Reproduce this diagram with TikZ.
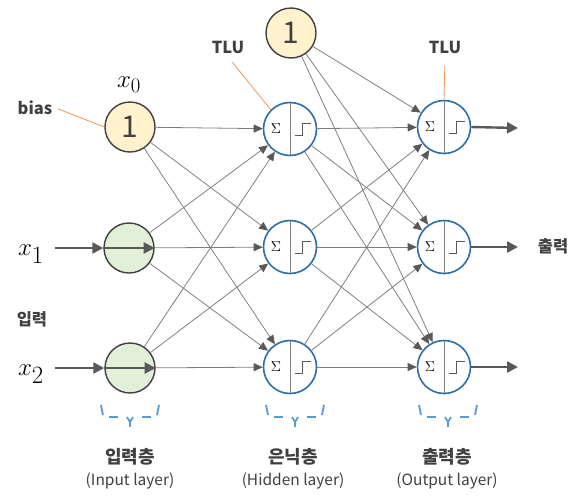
\documentclass[tikz,border=0pt]{standalone}
\usepackage{fontspec}
\setmainfont{Noto Sans CJK KR}
\usetikzlibrary{arrows.meta}

\definecolor{biasfill}{HTML}{FFF2CC}
\definecolor{infill}{HTML}{E2F0D9}
\definecolor{nodegray}{HTML}{404040}
\definecolor{tlublue}{HTML}{2E6EA6}
\definecolor{leadorange}{HTML}{F0955A}
\definecolor{linegray}{HTML}{7F7F7F}
\definecolor{headgray}{HTML}{595959}
\definecolor{bracketblue}{HTML}{5B9BD5}
\definecolor{textgray}{HTML}{404040}

\tikzset{
	bracket/.pic={
		\draw[bracketblue, line width=1.8pt] (-29,0) -- (-27,10);
		\draw[bracketblue, line width=1.8pt] (-21,12) -- (-12,12);
		\draw[bracketblue, line width=1.8pt] (-3,12) -- (0,17) -- (3,12);
		\draw[bracketblue, line width=1.8pt] (0,17) -- (0,22);
		\draw[bracketblue, line width=1.8pt] (12,12) -- (21,12);
		\draw[bracketblue, line width=1.8pt] (29,0) -- (27,10);
	}
}

\begin{document}
\begin{tikzpicture}[x=1pt, y=-1pt,
	bias/.style={shape=circle, draw=nodegray, line width=1.4pt, fill=biasfill, minimum size=50pt, inner sep=0pt, text=nodegray, font=\fontsize{30}{30}\selectfont},
	inp/.style={shape=circle, draw=nodegray, line width=1.4pt, fill=infill, minimum size=50pt, inner sep=0pt},
	tlu/.style={shape=circle, draw=tlublue, line width=1.6pt, fill=white, minimum size=53pt, inner sep=0pt,
		path picture={
			\draw[gray, line width=0.8pt] (path picture bounding box.north) -- (path picture bounding box.south);
			\node at ([xshift=-14pt]path picture bounding box.center) {\fontsize{15}{15}\selectfont$\Sigma$};
			\draw[headgray, line width=0.8pt] ([shift={(5pt,-6pt)}]path picture bounding box.center) -- ++(7pt,0pt) -- ++(0pt,12pt) -- ++(9pt,0pt);
		}},
	syn/.style={linegray, line width=0.8pt, -{Triangle[length=9pt,width=8pt,color=headgray]}},
	big/.style={headgray, line width=2.4pt, -{Triangle[length=11pt,width=11pt]}},
	lead/.style={draw=leadorange, line width=0.8pt},
	lbl/.style={text=textgray, font=\bfseries\fontsize{16.5}{16.5}\selectfont},
	layer/.style={text=textgray, font=\bfseries\fontsize{18}{18}\selectfont},
	sub/.style={text=textgray, font=\fontsize{15.5}{15.5}\selectfont},
	xlab/.style={text=black, font=\fontsize{44}{44}\selectfont},
]
	\useasboundingbox (0,0) rectangle (583,501);

	\node[bias] (I0) at (130,127) {1};
	\node[inp] (I1) at (129,248) {};
	\node[inp] (I2) at (130,368) {};

	\node[bias] (B) at (291,33) {1};

	\node[tlu] (H1) at (290,129) {};
	\node[tlu] (H2) at (290,247) {};
	\node[tlu] (H3) at (290,367) {};

	\node[tlu] (O1) at (444,127) {};
	\node[tlu] (O2) at (444,247) {};
	\node[tlu] (O3) at (444,367) {};

	\node[xlab, font=\fontsize{30}{30}\selectfont] (x0) at (129,85) {$x_0$};
	\node[xlab] (x1) at (31,254) {$x_1$};
	\node[xlab] (x2) at (31,374) {$x_2$};
	\coordinate (x1in) at (55,248);
	\coordinate (x2in) at (55,368);

	\node[lbl] (biaslab) at (35,108) {bias};
	\node[lbl] (inlab) at (32,319) {입력};
	\node[lbl] (tlu1) at (228,47) {TLU};
	\node[lbl] (tlu2) at (445,47) {TLU};
	\node[lbl] (outlab) at (553,246) {출력};

	\coordinate (y1) at (518,128);
	\coordinate (y2) at (518,247);
	\coordinate (y3) at (518,367);

	\path [syn] (I0) edge (H1);
	\path [syn] (I0) edge (H2);
	\path [syn] (I0) edge (H3);
	\path [syn] (I1) edge (H1);
	\path [syn] (I1) edge (H2);
	\path [syn] (I1) edge (H3);
	\path [syn] (I2) edge (H1);
	\path [syn] (I2) edge (H2);
	\path [syn] (I2) edge (H3);

	\path [syn] (B) edge (O1);
	\path [syn] (B) edge (O2);
	\path [syn] (B) edge (O3);
	\path [syn] (H1) edge (O1);
	\path [syn] (H1) edge (O2);
	\path [syn] (H1) edge (O3);
	\path [syn] (H2) edge (O1);
	\path [syn] (H2) edge (O2);
	\path [syn] (H2) edge (O3);
	\path [syn] (H3) edge (O1);
	\path [syn] (H3) edge (O2);
	\path [syn] (H3) edge (O3);

	\path [big] (x1in) edge (I1.west);
	\path [big] (I1.west) edge (I1.east);
	\path [big] (x2in) edge (I2.west);
	\path [big] (I2.west) edge (I2.east);

	\path [big] (O1.east) edge (y1);
	\path [big] (O2.east) edge (y2);
	\path [big] (O3.east) edge (y3);

	\draw [lead, shorten <=2pt] (biaslab.east) -- (I0.west);
	\draw [lead, shorten <=7pt] (tlu1.south) -- (H1.north west);
	\draw [lead, shorten <=9pt] (tlu2.south) -- (O1.north);

	\pic at (130,405) {bracket};
	\pic at (295,405) {bracket};
	\pic at (448,405) {bracket};

	\node[layer] (L1) at (130,457) {입력층};
	\node[sub] (L1e) at (130,481) {(Input layer)};
	\node[layer] (L2) at (293,457) {은닉층};
	\node[sub] (L2e) at (293,481) {(Hidden layer)};
	\node[layer] (L3) at (447,457) {출력층};
	\node[sub] (L3e) at (447,481) {(Output layer)};

\end{tikzpicture}
\end{document}
